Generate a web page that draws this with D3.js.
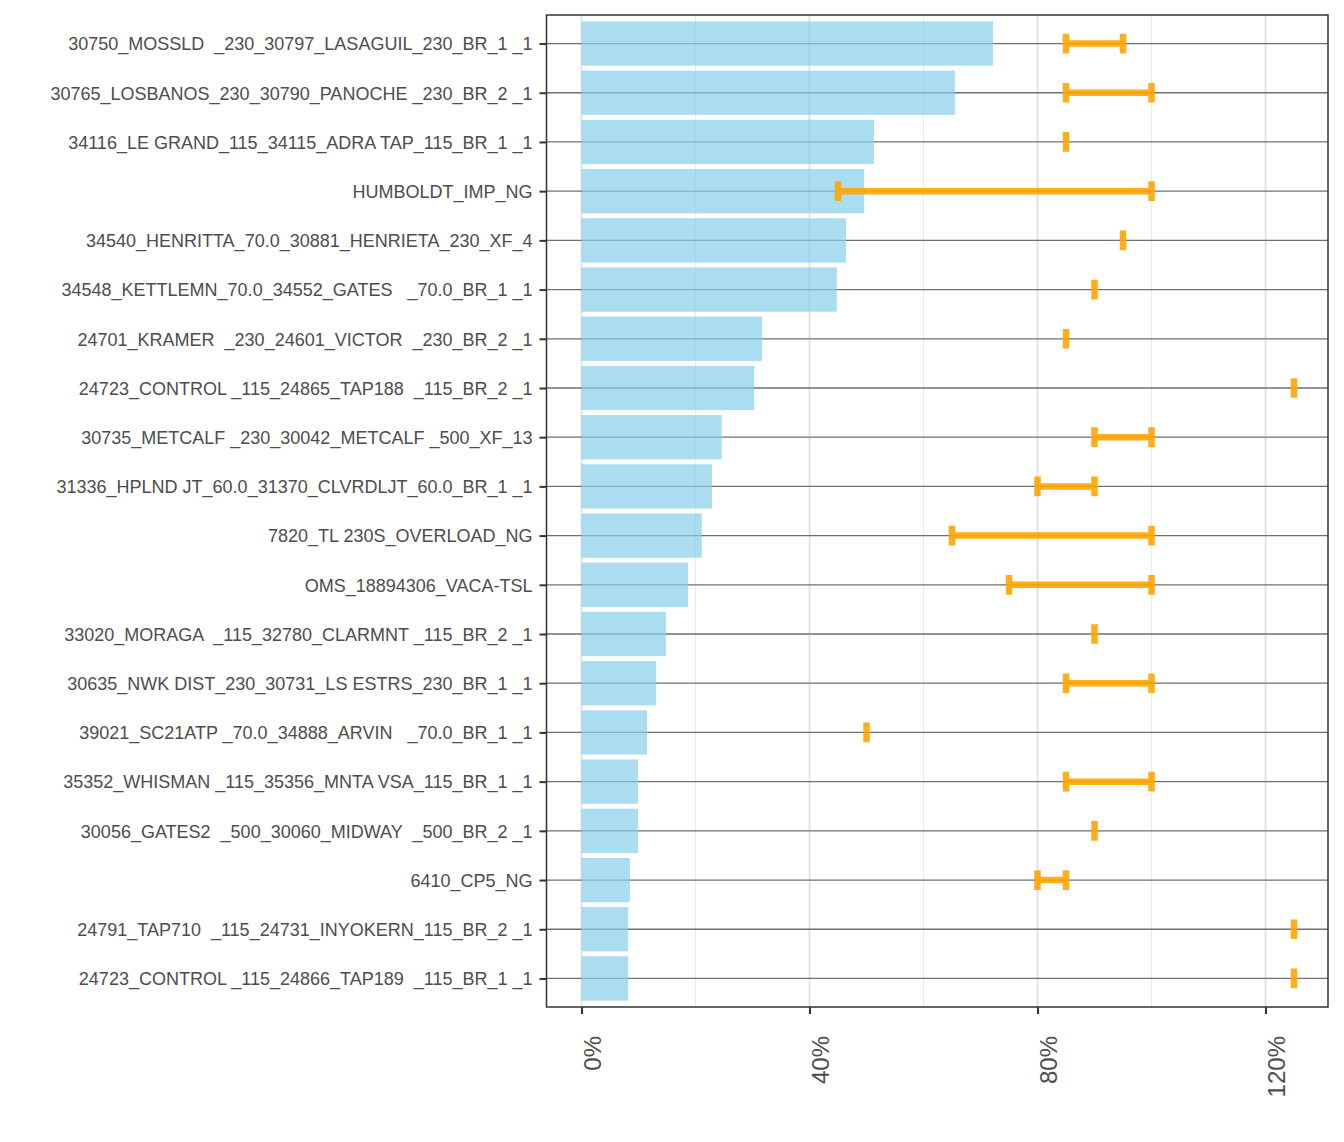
<!DOCTYPE html>
<html>
<head>
<meta charset="utf-8">
<script src="https://cdn.jsdelivr.net/npm/d3@7"></script>
<style>
  body { margin: 0; background: #fff; }
  text { font-family: "Liberation Sans", Arial, Helvetica, sans-serif; white-space: pre; }
</style>
</head>
<body>
<script>

// constraint names, top to bottom
var constraints = [
  "30750_MOSSLD  _230_30797_LASAGUIL_230_BR_1 _1",
  "30765_LOSBANOS_230_30790_PANOCHE _230_BR_2 _1",
  "34116_LE GRAND_115_34115_ADRA TAP_115_BR_1 _1",
  "HUMBOLDT_IMP_NG",
  "34540_HENRITTA_70.0_30881_HENRIETA_230_XF_4",
  "34548_KETTLEMN_70.0_34552_GATES   _70.0_BR_1 _1",
  "24701_KRAMER  _230_24601_VICTOR  _230_BR_2 _1",
  "24723_CONTROL _115_24865_TAP188  _115_BR_2 _1",
  "30735_METCALF _230_30042_METCALF _500_XF_13",
  "31336_HPLND JT_60.0_31370_CLVRDLJT_60.0_BR_1 _1",
  "7820_TL 230S_OVERLOAD_NG",
  "OMS_18894306_VACA-TSL",
  "33020_MORAGA  _115_32780_CLARMNT _115_BR_2 _1",
  "30635_NWK DIST_230_30731_LS ESTRS_230_BR_1 _1",
  "39021_SC21ATP _70.0_34888_ARVIN   _70.0_BR_1 _1",
  "35352_WHISMAN _115_35356_MNTA VSA_115_BR_1 _1",
  "30056_GATES2  _500_30060_MIDWAY  _500_BR_2 _1",
  "6410_CP5_NG",
  "24791_TAP710  _115_24731_INYOKERN_115_BR_2 _1",
  "24723_CONTROL _115_24866_TAP189  _115_BR_1 _1"
];

// bar values (%)
var share = [72.2, 65.5, 51.3, 49.6, 46.4, 44.8, 31.7, 30.3, 24.6, 22.9,
             21.1, 18.7, 14.8, 13.1, 11.5, 9.9, 9.9, 8.5, 8.2, 8.2];

// error bar ranges (%)
var lowVals  = [85, 85, 85, 45, 95, 90, 85, 125, 90, 80, 65, 75, 90, 85, 50, 85, 90, 80, 125, 125];
var highVals = [95, 100, 85, 100, 95, 90, 85, 125, 100, 90, 100, 100, 90, 100, 50, 100, 90, 85, 125, 125];

var xTicks = [0, 40, 80, 120];
var xMinor = [20, 60, 100];

var width = 1344, height = 1142;
var panel = {left: 546.5, right: 1328, top: 15, bottom: 1007};

var rows = constraints.map(function(c, i){
  return {name: c, value: share[i], lo: lowVals[i], hi: highVals[i]};
});

var svg = d3.select("body").append("svg")
    .attr("width", width)
    .attr("height", height);

var x = d3.scaleLinear()
    .domain([-6.14, 130.96])
    .range([panel.left, panel.right]);

var y = d3.scalePoint()
    .domain(constraints)
    .range([panel.top, panel.bottom])
    .padding(0.58);

var step = y.step();

// vertical grid
svg.append("g").selectAll("line.minor")
    .data(xMinor).enter().append("line")
    .attr("x1", d => x(d)).attr("x2", d => x(d))
    .attr("y1", panel.top).attr("y2", panel.bottom)
    .attr("stroke", "#EBEBEB").attr("stroke-width", 1.1);

svg.append("g").selectAll("line.major")
    .data(xTicks).enter().append("line")
    .attr("x1", d => x(d)).attr("x2", d => x(d))
    .attr("y1", panel.top).attr("y2", panel.bottom)
    .attr("stroke", "#E3E3E3").attr("stroke-width", 2);

// horizontal lines
svg.append("g").selectAll("line.h")
    .data(constraints).enter().append("line")
    .attr("x1", panel.left).attr("x2", panel.right)
    .attr("y1", d => y(d)).attr("y2", d => y(d))
    .attr("stroke", "#707070").attr("stroke-width", 1.3);

// bars
svg.append("g").selectAll("rect")
    .data(rows).enter().append("rect")
    .attr("x", x(0))
    .attr("y", d => y(d.name) - step * 0.45)
    .attr("width", d => x(d.value) - x(0))
    .attr("height", step * 0.9)
    .attr("fill", "#87CEEB")
    .attr("fill-opacity", 0.7);

// error bars
var eb = svg.append("g")
    .attr("stroke", "#FFA500")
    .attr("stroke-width", 6.5)
    .attr("opacity", 0.9)
    .selectAll("g").data(rows).enter().append("g");

eb.append("path")
    .attr("fill", "none")
    .attr("d", function(d){
      var cy = y(d.name), h = step * 0.2;
      return "M" + x(d.lo) + "," + (cy - h) + "V" + (cy + h) +
             "M" + x(d.lo) + "," + cy + "H" + x(d.hi) +
             "M" + x(d.hi) + "," + (cy - h) + "V" + (cy + h);
    });

// panel border
svg.append("rect")
    .attr("x", panel.left).attr("y", panel.top)
    .attr("width", panel.right - panel.left)
    .attr("height", panel.bottom - panel.top)
    .attr("fill", "none")
    .attr("stroke", "#333333")
    .attr("stroke-width", 1.5);

// y axis
var yAxis = svg.append("g")
    .attr("transform", "translate(" + panel.left + ",0)")
    .call(d3.axisLeft(y).tickSize(7).tickPadding(7));
yAxis.select(".domain").remove();
yAxis.selectAll(".tick line").attr("stroke", "#333333").attr("stroke-width", 2);
yAxis.selectAll(".tick text")
    .attr("fill", "#4D4D4D")
    .style("font-size", "18px")
    .attr("dy", "0.35em");

// x axis
var xAxis = svg.append("g")
    .attr("transform", "translate(0," + panel.bottom + ")")
    .call(d3.axisBottom(x).tickValues(xTicks).tickSize(7)
          .tickFormat(d => d + "%"));
xAxis.select(".domain").remove();
xAxis.selectAll(".tick line").attr("stroke", "#333333").attr("stroke-width", 2);
xAxis.selectAll(".tick text")
    .attr("fill", "#4D4D4D")
    .style("font-size", "24px")
    .attr("text-anchor", "end")
    .attr("transform", "translate(0,29) rotate(-90)")
    .attr("x", 0).attr("y", 0)
    .attr("dy", "0.8em");

</script>
</body>
</html>
